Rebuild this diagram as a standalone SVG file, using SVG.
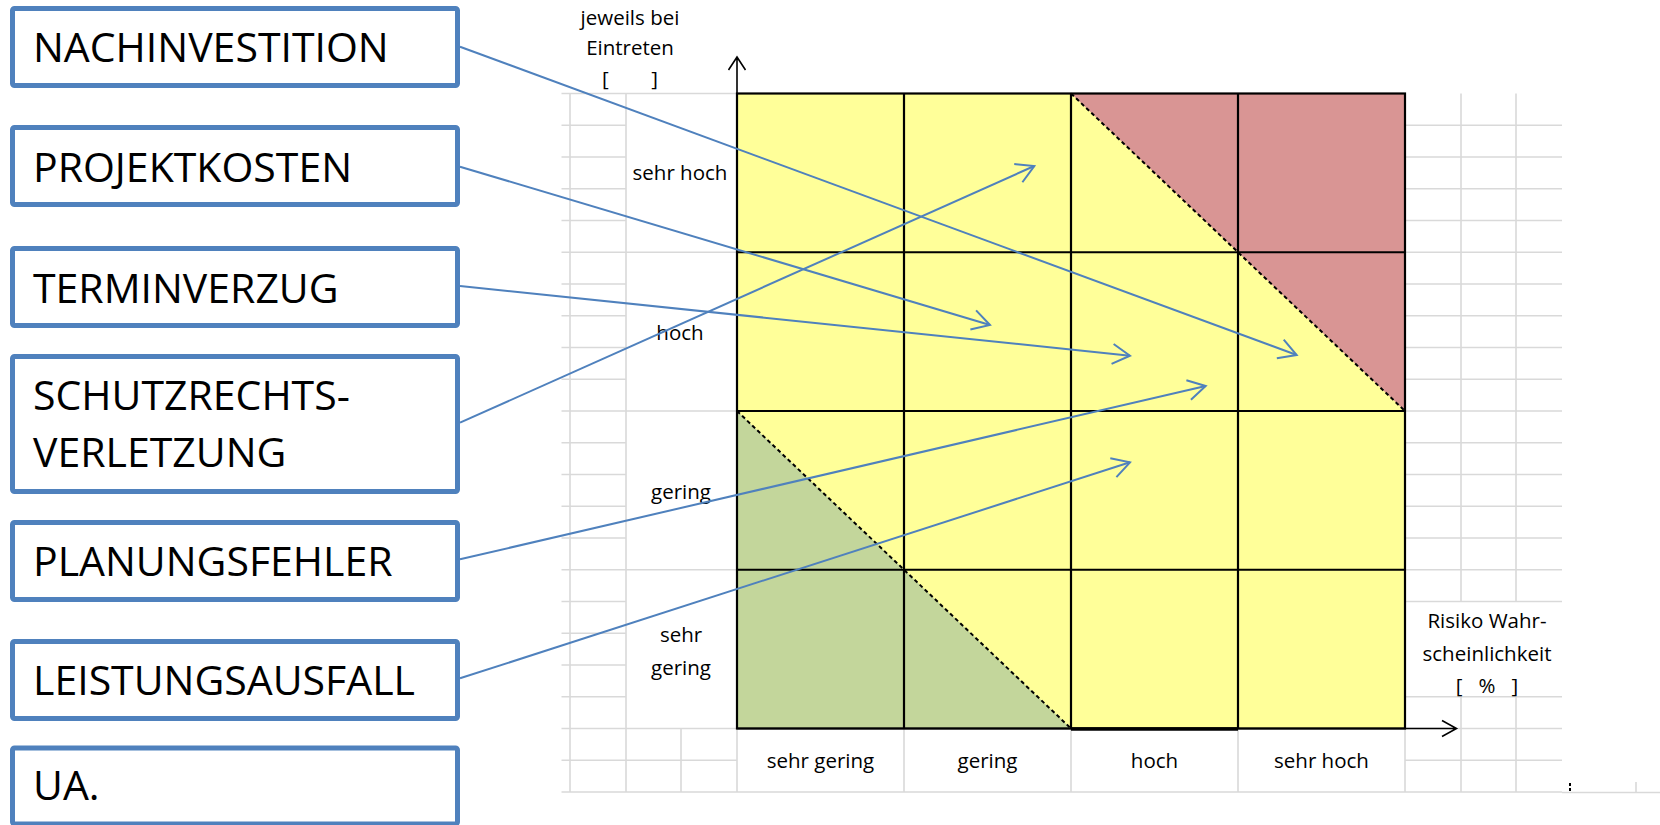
<svg xmlns="http://www.w3.org/2000/svg" width="1660" height="825" viewBox="0 0 1660 825">
<defs>
<style>
.g{stroke:#D9D9D9;stroke-width:1.6;fill:none}
.k{stroke:#000;stroke-width:2.2;fill:none}
.ax{stroke:#000;stroke-width:1.6;fill:none}
.d{stroke:#000;stroke-width:2;stroke-dasharray:4 3;fill:none}
.box{fill:#fff;stroke:#4F81BD;stroke-width:5}
.bt{font-family:"Open Sans","Liberation Sans",sans-serif;font-size:41px;fill:#000}
.st{font-family:"Open Sans","Liberation Sans",sans-serif;font-size:20.5px;fill:#000;text-anchor:middle}
.c{stroke:#4F81BD;stroke-width:2;fill:none;marker-end:url(#ah)}
</style>
<marker id="ah" markerUnits="userSpaceOnUse" viewBox="-20 -12 22 24" refX="0" refY="0" markerWidth="22" markerHeight="24" orient="auto">
<path d="M-17.5,-10 L0,0 L-17.5,10" fill="none" stroke="#4F81BD" stroke-width="2"/>
</marker>
</defs>
<rect width="1660" height="825" fill="#fff"/>
<g id="sheet-grid">
<path class="g" d="M561.5,93.5H737M561.5,125.25H626M561.5,157H626M561.5,188.75H626M561.5,220.5H626M561.5,252.25H737M561.5,284H626M561.5,315.75H626M561.5,347.5H626M561.5,379.25H626M561.5,411H737M561.5,442.75H626M561.5,474.5H626M561.5,506.25H626M561.5,538H626M561.5,569.75H737M561.5,601.5H626M561.5,633.25H626M561.5,665H626M561.5,696.75H626M561.5,728.5H737M561.5,760.25H737M561.5,792H1562"/>
<path class="g" d="M570,93.5V792M626,93.5V792M681,728.5V792M737,728.5V792M904,728.5V792M1071,728.5V792M1238,728.5V792M1405,728.5V792"/>
<path class="g" d="M1405,125.25H1562M1405,157H1562M1405,188.75H1562M1405,220.5H1562M1405,252.25H1562M1405,284H1562M1405,315.75H1562M1405,347.5H1562M1405,379.25H1562M1405,411H1562M1405,442.75H1562M1405,474.5H1562M1405,506.25H1562M1405,538H1562M1405,569.75H1562M1405,601.5H1562M1405,696.75H1562M1405,728.5H1562M1405,760.25H1562"/>
<path class="g" d="M1461,93.5V601.5M1516,93.5V601.5M1461,696.75V792M1516,696.75V792M1636,782V793M1562,792.5H1660"/>
<path d="M1570,783V793" stroke="#000" stroke-width="2" stroke-dasharray="3 2"/>
</g>
<g id="matrix">
<rect x="737" y="93.5" width="668" height="635" fill="#FFFF99"/>
<polygon points="1071,93.5 1405,93.5 1405,411" fill="#D99594"/>
<polygon points="737,411 737,728.5 1071,728.5" fill="#C3D69B"/>
<path class="d" d="M1071,93.5L1405,411M737,411L1071,728.5"/>
<path class="k" d="M904,93.5V728.5M1071,93.5V728.5M1238,93.5V728.5M737,252.25H1405M737,411H1405M737,569.75H1405"/>
<rect class="k" x="737" y="93.5" width="668" height="635"/>
<path d="M1071,729H1238" stroke="#000" stroke-width="3.5"/>
</g>
<g id="axes">
<path class="ax" d="M737,57V728.5M728.5,70L737,57L745.5,70"/>
<path class="ax" d="M737,728.5H1456.5M1442,720.5L1456.5,728.5L1442,736.5"/>
</g>
<g id="labels">
<text class="st" x="630" y="25">jeweils bei</text>
<text class="st" x="630" y="55">Eintreten</text>
<text class="st" x="630" y="86" xml:space="preserve">[        ]</text>
<text class="st" x="680" y="180">sehr hoch</text>
<text class="st" x="680" y="340">hoch</text>
<text class="st" x="681" y="499">gering</text>
<text class="st" x="681" y="642">sehr</text>
<text class="st" x="681" y="675">gering</text>
<text class="st" x="820.5" y="768">sehr gering</text>
<text class="st" x="987.5" y="768">gering</text>
<text class="st" x="1154.5" y="768">hoch</text>
<text class="st" x="1321.5" y="768">sehr hoch</text>
<text class="st" x="1487" y="628">Risiko Wahr-</text>
<text class="st" x="1487" y="661">scheinlichkeit</text>
<text class="st" x="1487" y="693" xml:space="preserve">[   %   ]</text>
</g>
<g id="n1"><rect class="box" x="12.5" y="8.5" width="445" height="77" rx="2"/><text class="bt" x="33" y="62">NACHINVESTITION</text></g>
<g id="n2"><rect class="box" x="12.5" y="127.5" width="445" height="77" rx="2"/><text class="bt" x="33" y="181.7">PROJEKTKOSTEN</text></g>
<g id="n3"><rect class="box" x="12.5" y="248.5" width="445" height="77" rx="2"/><text class="bt" x="33" y="302.7">TERMINVERZUG</text></g>
<g id="n4"><rect class="box" x="12.5" y="356.5" width="445" height="135" rx="2"/><text class="bt" x="33" y="409.5">SCHUTZRECHTS-</text><text class="bt" x="33" y="466.7">VERLETZUNG</text></g>
<g id="n5"><rect class="box" x="12.5" y="522.5" width="445" height="77" rx="2"/><text class="bt" x="33" y="575.7">PLANUNGSFEHLER</text></g>
<g id="n6"><rect class="box" x="12.5" y="641.5" width="445" height="77" rx="2"/><text class="bt" x="33" y="695">LEISTUNGSAUSFALL</text></g>
<g id="n7"><rect class="box" x="12.5" y="748" width="445" height="76" rx="2"/><text class="bt" x="33" y="800">UA.</text></g>
<g id="connectors">
<path class="c" d="M460,46.7L1296.7,355"/>
<path class="c" d="M460,166.7L990,325"/>
<path class="c" d="M460,286L1130,355.7"/>
<path class="c" d="M460,422.7L1034.3,166"/>
<path class="c" d="M460,559.3L1205.7,386"/>
<path class="c" d="M460,678.3L1130,462.3"/>
</g>
</svg>
